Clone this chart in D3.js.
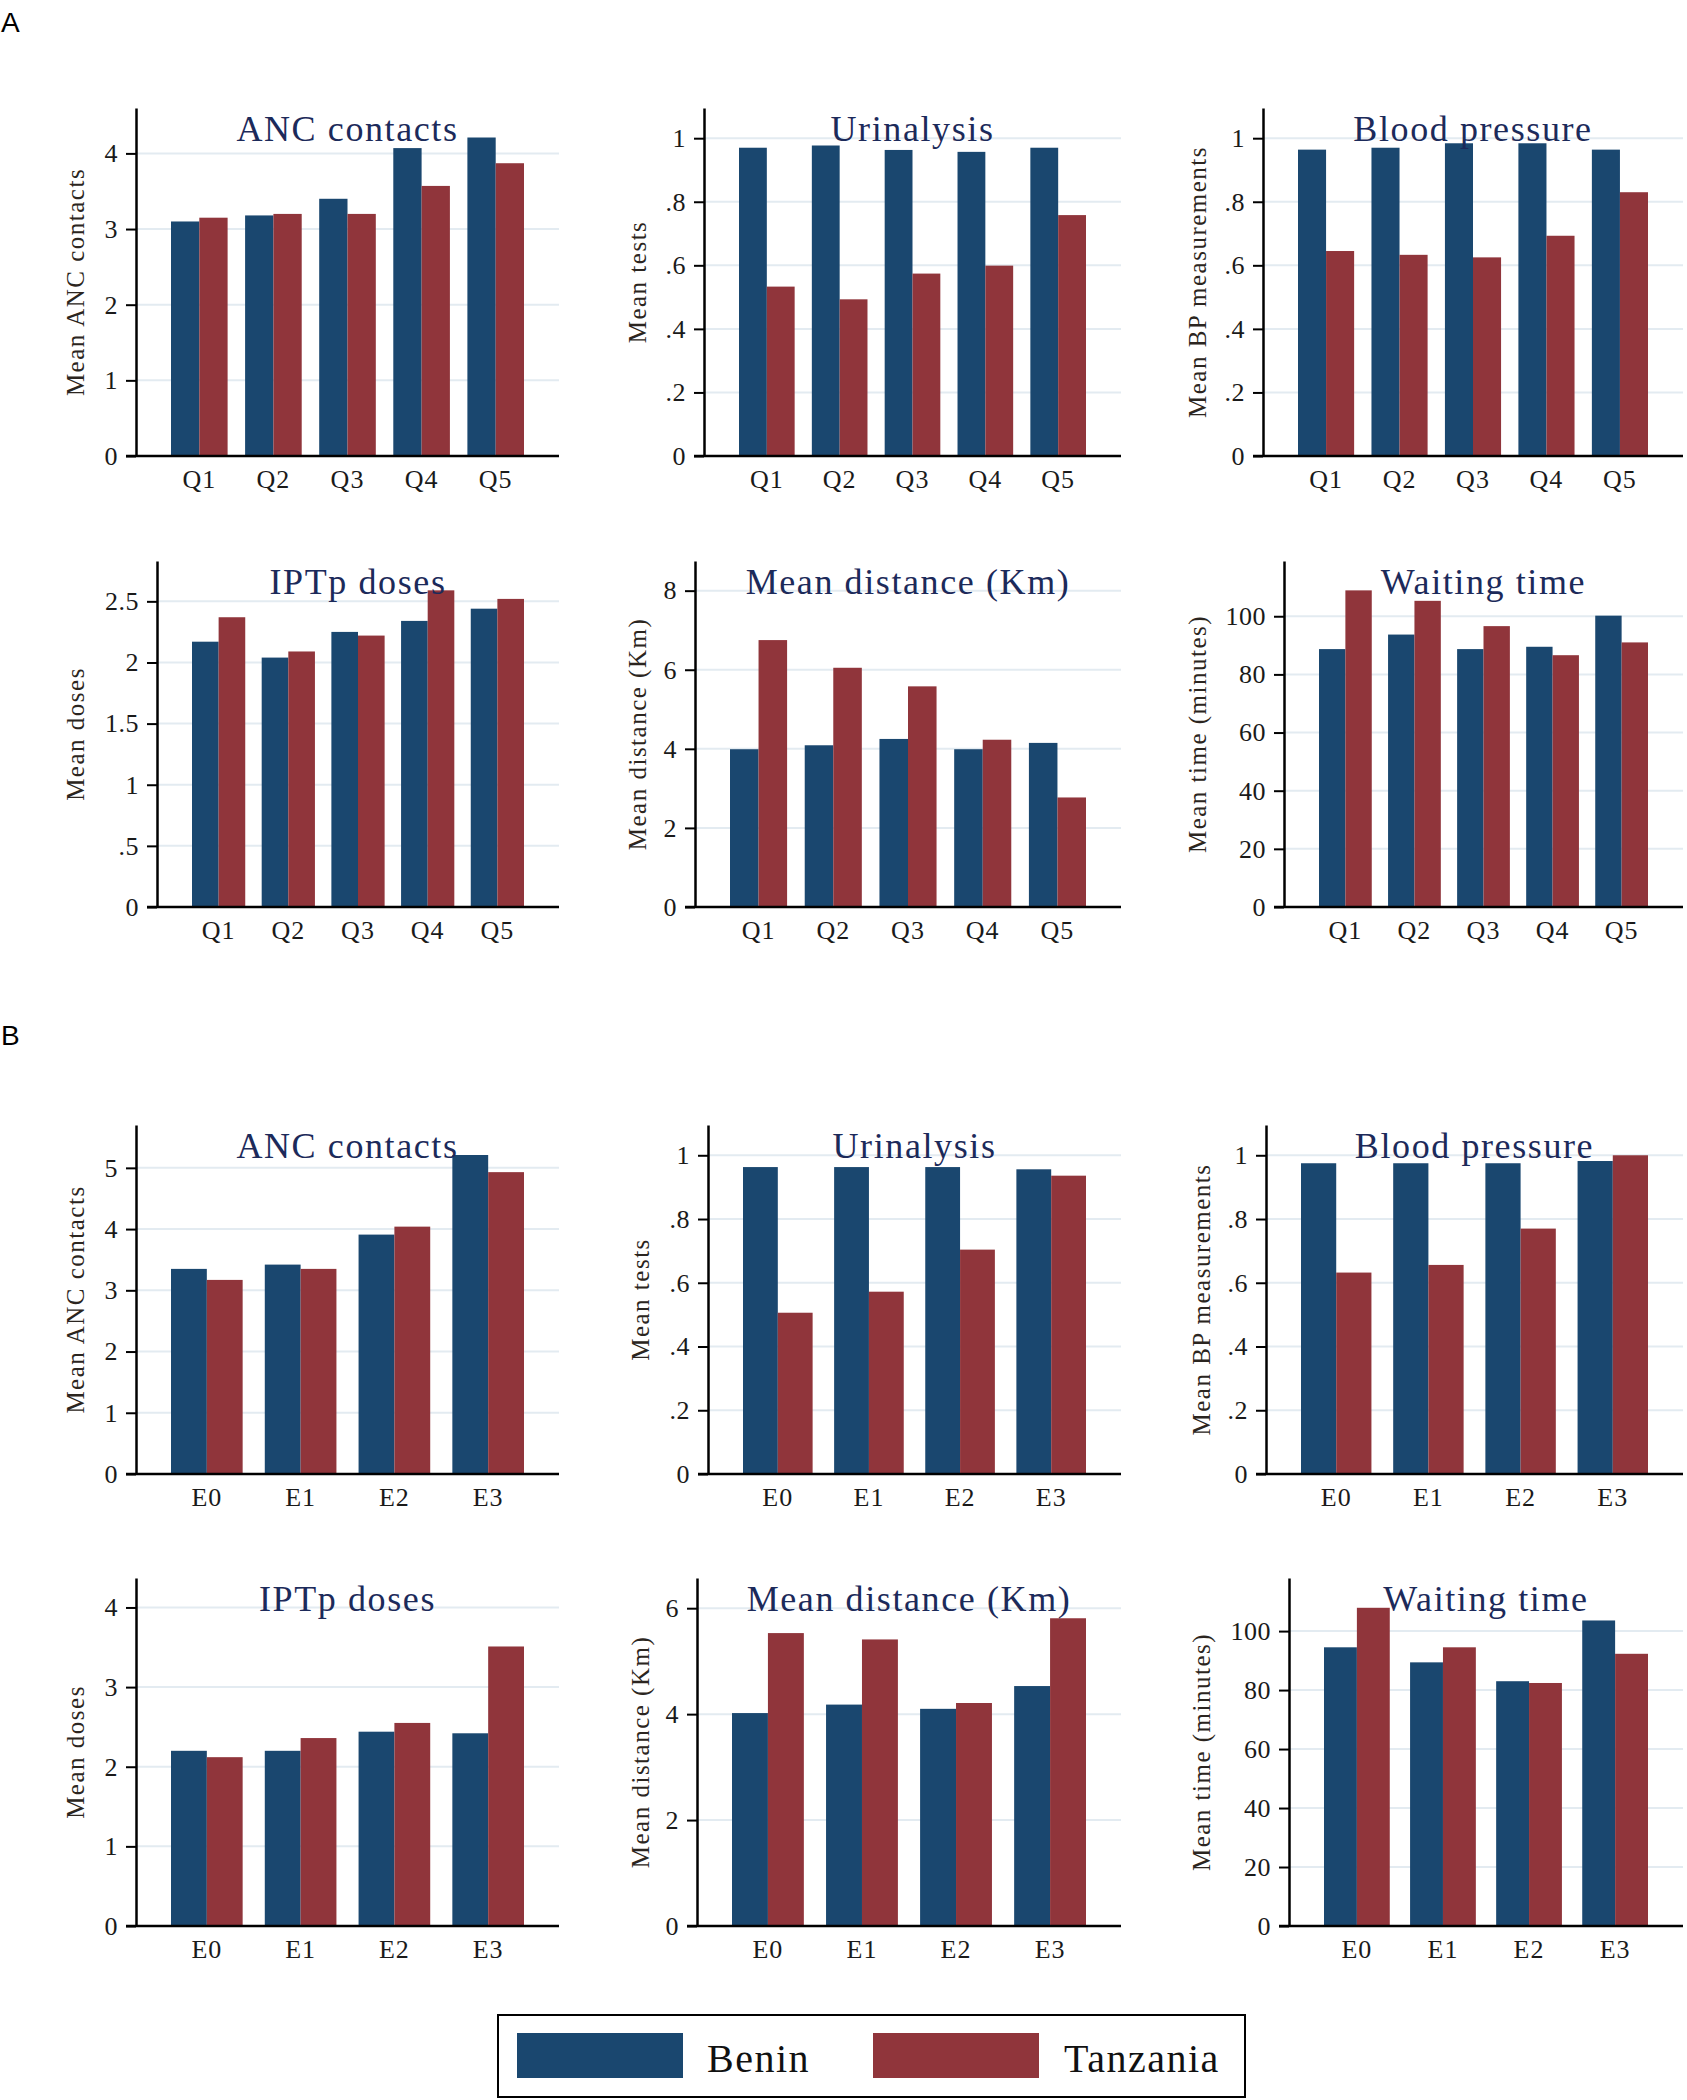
<!DOCTYPE html>
<html><head><meta charset="utf-8">
<script src="https://cdn.jsdelivr.net/npm/d3@7"></script>
<style>html,body{margin:0;padding:0;background:#fff}</style>
</head><body>
<svg id="chart" width="1687" height="2100" xmlns="http://www.w3.org/2000/svg"></svg>
<script>
// ---------- categories & series ----------
const quintiles = ["Q1", "Q2", "Q3", "Q4", "Q5"];
const eduLevels = ["E0", "E1", "E2", "E3"];
const seriesNames = ["Benin", "Tanzania"];
const seriesColors = ["#1a476f", "#90353b"];

// ---------- Panel A (wealth quintiles) ----------
const ancA_benin  = [3.10, 3.18, 3.40, 4.07, 4.21];
const ancA_tanz   = [3.15, 3.20, 3.20, 3.57, 3.87];
const urinA_benin = [0.970, 0.977, 0.963, 0.957, 0.970];
const urinA_tanz  = [0.533, 0.493, 0.574, 0.599, 0.758];
const bpA_benin   = [0.964, 0.970, 0.984, 0.984, 0.964];
const bpA_tanz    = [0.645, 0.633, 0.625, 0.693, 0.830];
const iptpA_benin = [2.17, 2.04, 2.25, 2.34, 2.44];
const iptpA_tanz  = [2.37, 2.09, 2.22, 2.59, 2.52];
const distA_benin = [3.99, 4.09, 4.25, 3.99, 4.15];
const distA_tanz  = [6.75, 6.05, 5.58, 4.23, 2.77];
const waitA_benin = [88.7, 93.7, 88.7, 89.5, 100.2];
const waitA_tanz  = [108.9, 105.3, 96.6, 86.6, 91.0];

// ---------- Panel B (education levels) ----------
const ancB_benin  = [3.35, 3.42, 3.91, 5.21];
const ancB_tanz   = [3.17, 3.35, 4.04, 4.93];
const urinB_benin = [0.963, 0.963, 0.963, 0.956];
const urinB_tanz  = [0.506, 0.572, 0.704, 0.936];
const bpB_benin   = [0.975, 0.975, 0.975, 0.982];
const bpB_tanz    = [0.632, 0.656, 0.770, 1.000];
const iptpB_benin = [2.20, 2.20, 2.44, 2.42];
const iptpB_tanz  = [2.12, 2.36, 2.55, 3.51];
const distB_benin = [4.02, 4.18, 4.10, 4.53];
const distB_tanz  = [5.53, 5.41, 4.21, 5.81];
const waitB_benin = [94.5, 89.4, 83.0, 103.6];
const waitB_tanz  = [107.9, 94.5, 82.4, 92.3];

// ---------- titles / axis labels ----------
const panelTitles = ["ANC contacts", "Urinalysis", "Blood pressure", "IPTp doses", "Mean distance (Km)", "Waiting time"];
const yTitles = ["Mean ANC contacts", "Mean tests", "Mean BP measurements", "Mean doses", "Mean distance (Km)", "Mean time (minutes)"];

// ---------- y ticks ----------
const ticksAnc4   = [0, 1, 2, 3, 4];
const labelsAnc4  = ["0", "1", "2", "3", "4"];
const ticksAnc5   = [0, 1, 2, 3, 4, 5];
const labelsAnc5  = ["0", "1", "2", "3", "4", "5"];
const ticksProp   = [0, 0.2, 0.4, 0.6, 0.8, 1];
const labelsProp  = ["0", ".2", ".4", ".6", ".8", "1"];
const ticksIptpA  = [0, 0.5, 1, 1.5, 2, 2.5];
const labelsIptpA = ["0", ".5", "1", "1.5", "2", "2.5"];
const ticksIptpB  = [0, 1, 2, 3, 4];
const labelsIptpB = ["0", "1", "2", "3", "4"];
const ticksDistA  = [0, 2, 4, 6, 8];
const labelsDistA = ["0", "2", "4", "6", "8"];
const ticksDistB  = [0, 2, 4, 6];
const labelsDistB = ["0", "2", "4", "6"];
const ticksWait   = [0, 20, 40, 60, 80, 100];
const labelsWait  = ["0", "20", "40", "60", "80", "100"];

// axis maxima (top of y axis line)
const yMaxA = [4.6, 1.095, 1.095, 2.83, 8.75, 119];
const yMaxB = [5.7, 1.095, 1.095, 4.37, 6.57, 118];

// ---------- layout (positions only) ----------
const rowTop  = [108, 561, 1125, 1578];
const rowBase = [456, 907, 1474, 1926];
const axisXs  = [[136, 704, 1263], [157, 695, 1284], [136, 708, 1266], [136, 697, 1289]];
const endXs   = [559, 1121, 1683];
const yTitleXs = [[75, 637, 1197], [75, 637, 1197], [75, 640, 1201], [75, 640, 1201]];
const outerGap = 35;

// build panel table from the arrays above
const panels = [
  {cats: quintiles, vals: [ancA_benin, ancA_tanz],   ticks: ticksAnc4,  labels: labelsAnc4,  max: yMaxA[0], t: 0, r: 0, c: 0},
  {cats: quintiles, vals: [urinA_benin, urinA_tanz], ticks: ticksProp,  labels: labelsProp,  max: yMaxA[1], t: 1, r: 0, c: 1},
  {cats: quintiles, vals: [bpA_benin, bpA_tanz],     ticks: ticksProp,  labels: labelsProp,  max: yMaxA[2], t: 2, r: 0, c: 2},
  {cats: quintiles, vals: [iptpA_benin, iptpA_tanz], ticks: ticksIptpA, labels: labelsIptpA, max: yMaxA[3], t: 3, r: 1, c: 0},
  {cats: quintiles, vals: [distA_benin, distA_tanz], ticks: ticksDistA, labels: labelsDistA, max: yMaxA[4], t: 4, r: 1, c: 1},
  {cats: quintiles, vals: [waitA_benin, waitA_tanz], ticks: ticksWait,  labels: labelsWait,  max: yMaxA[5], t: 5, r: 1, c: 2},
  {cats: eduLevels, vals: [ancB_benin, ancB_tanz],   ticks: ticksAnc5,  labels: labelsAnc5,  max: yMaxB[0], t: 0, r: 2, c: 0},
  {cats: eduLevels, vals: [urinB_benin, urinB_tanz], ticks: ticksProp,  labels: labelsProp,  max: yMaxB[1], t: 1, r: 2, c: 1},
  {cats: eduLevels, vals: [bpB_benin, bpB_tanz],     ticks: ticksProp,  labels: labelsProp,  max: yMaxB[2], t: 2, r: 2, c: 2},
  {cats: eduLevels, vals: [iptpB_benin, iptpB_tanz], ticks: ticksIptpB, labels: labelsIptpB, max: yMaxB[3], t: 3, r: 3, c: 0},
  {cats: eduLevels, vals: [distB_benin, distB_tanz], ticks: ticksDistB, labels: labelsDistB, max: yMaxB[4], t: 4, r: 3, c: 1},
  {cats: eduLevels, vals: [waitB_benin, waitB_tanz], ticks: ticksWait,  labels: labelsWait,  max: yMaxB[5], t: 5, r: 3, c: 2}
];

const svg = d3.select("#chart");
svg.append("rect").attr("width", 1687).attr("height", 2100).attr("fill", "#fff");

const SERIF = "'Liberation Serif', 'Times New Roman', serif";
const SANS = "'Liberation Sans', Arial, sans-serif";

// section letters
svg.append("text").attr("x", 1).attr("y", 32).attr("font-family", SANS).attr("font-size", 28).attr("fill", "#000").text("A");
svg.append("text").attr("x", 1).attr("y", 1045).attr("font-family", SANS).attr("font-size", 28).attr("fill", "#000").text("B");

panels.forEach(p => {
  const ax = axisXs[p.r][p.c];
  const ex = endXs[p.c];
  const top = rowTop[p.r];
  const base = rowBase[p.r];
  const g = svg.append("g");

  const y = d3.scaleLinear().domain([0, p.max]).range([base, top]);
  const x0 = d3.scaleBand().domain(p.cats).range([ax + outerGap, ex - outerGap]).paddingInner(0.236);
  const x1 = d3.scaleBand().domain(seriesNames).range([0, x0.bandwidth()]);

  // gridlines
  g.append("g").selectAll("line").data(p.ticks.filter(t => t > 0)).join("line")
    .attr("x1", ax).attr("x2", ex)
    .attr("y1", d => y(d)).attr("y2", d => y(d))
    .attr("stroke", "#e3ebf1").attr("stroke-width", 2);

  // bars
  const rows = p.cats.map((cat, i) => ({cat, values: seriesNames.map((s, k) => ({s, k, v: p.vals[k][i]}))}));
  g.append("g").selectAll("g").data(rows).join("g")
    .attr("transform", d => `translate(${x0(d.cat)},0)`)
    .selectAll("rect").data(d => d.values).join("rect")
    .attr("x", d => x1(d.s))
    .attr("width", x1.bandwidth())
    .attr("y", d => y(d.v))
    .attr("height", d => base - y(d.v))
    .attr("fill", d => seriesColors[d.k]);

  // y axis
  const yAxis = d3.axisLeft(y).tickValues(p.ticks)
    .tickFormat((d, i) => p.labels[i]).tickSize(10).tickSizeOuter(0).tickPadding(8);
  const ya = g.append("g").attr("transform", `translate(${ax},0)`).call(yAxis);
  ya.select(".domain").attr("stroke", "#000").attr("stroke-width", 2.5);
  ya.selectAll(".tick line").attr("stroke", "#000").attr("stroke-width", 2);
  ya.selectAll(".tick text").attr("font-family", SERIF).attr("font-size", 26)
    .attr("fill", "#1a1a1a").attr("letter-spacing", 0.5);

  // x baseline
  g.append("line").attr("x1", ax - 10).attr("x2", ex).attr("y1", base).attr("y2", base)
    .attr("stroke", "#000").attr("stroke-width", 2.5);

  // x category labels
  const xAxis = d3.axisBottom(x0).tickSize(0).tickPadding(14);
  const xa = g.append("g").attr("transform", `translate(0,${base})`).call(xAxis);
  xa.select(".domain").remove();
  xa.selectAll(".tick text").attr("font-family", SERIF).attr("font-size", 26)
    .attr("fill", "#1a1a1a").attr("letter-spacing", 1);

  // panel title
  g.append("text").attr("x", (ax + ex) / 2).attr("y", top + 33)
    .attr("text-anchor", "middle").attr("font-family", SERIF).attr("font-size", 36)
    .attr("letter-spacing", 1.6).attr("fill", "#1c2a5a").text(panelTitles[p.t]);

  // y axis title
  const tx = yTitleXs[p.r][p.c];
  const ty = (top + base) / 2;
  g.append("text").attr("transform", `translate(${tx},${ty}) rotate(-90)`)
    .attr("text-anchor", "middle").attr("dominant-baseline", "central")
    .attr("font-family", SERIF).attr("font-size", 25).attr("letter-spacing", 1.5)
    .attr("fill", "#2b2520").text(yTitles[p.t]);
});

// legend
const leg = svg.append("g");
leg.append("rect").attr("x", 498).attr("y", 2015).attr("width", 747).attr("height", 82)
  .attr("fill", "none").attr("stroke", "#000").attr("stroke-width", 2);
const legX = [517, 873];
const legTextX = [707, 1064];
seriesNames.forEach((s, i) => {
  leg.append("rect").attr("x", legX[i]).attr("y", 2033).attr("width", 166).attr("height", 45)
    .attr("fill", seriesColors[i]);
  leg.append("text").attr("x", legTextX[i]).attr("y", 2072)
    .attr("font-family", SERIF).attr("font-size", 40).attr("letter-spacing", 1.5)
    .attr("fill", "#111").text(s);
});
</script>
</body></html>
